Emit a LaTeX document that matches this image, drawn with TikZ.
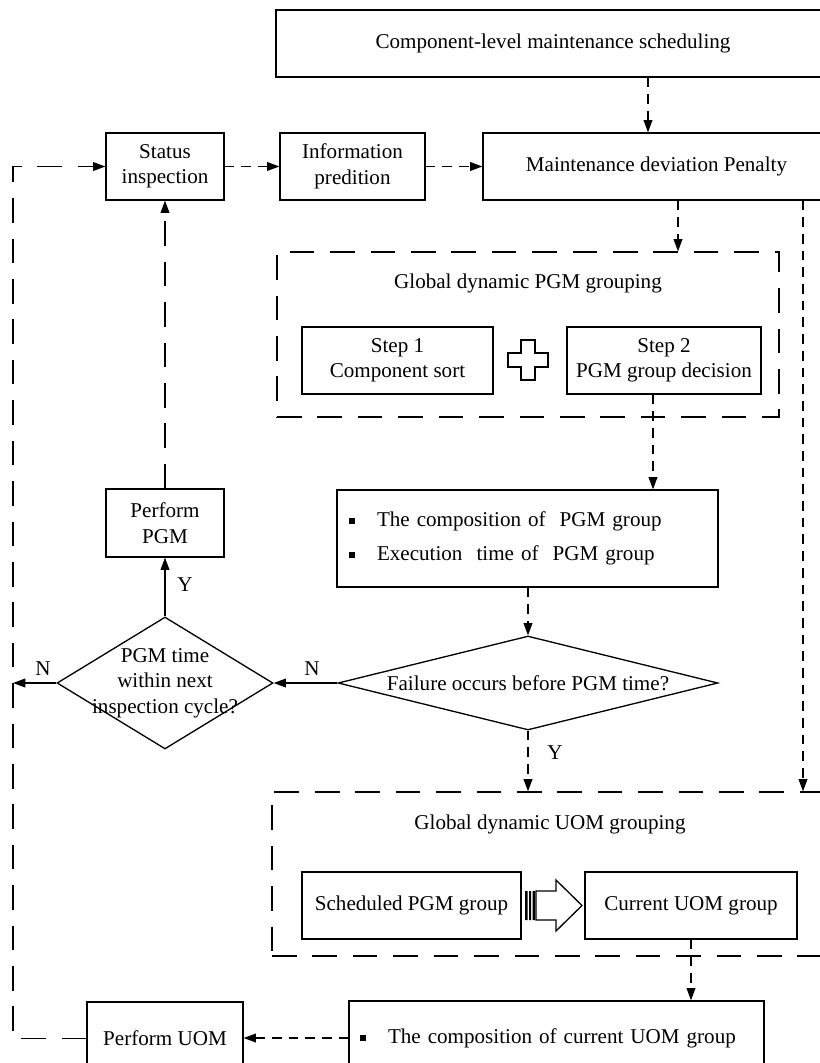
\documentclass[tikz,border=0pt]{standalone}
\usepackage{fontspec}
\setmainfont{Liberation Serif}
\usetikzlibrary{arrows.meta, calc, shapes.geometric}

\newcommand\sqbullet{\raisebox{0.25ex}{\rule{0.12cm}{0.12cm}}\hspace{0.44cm}}

\tikzset{
    box/.style={draw, rectangle, inner sep=0pt, align=center},
    grpbox/.style={draw, rectangle, inner sep=0pt, longdash},
    decide/.style={draw, diamond, inner sep=0pt},
    longdash/.style={dash pattern=on 14pt off 9pt},
    shortdash/.style={dash pattern=on 5.5pt off 4pt},
    flow/.style={->, shortdash},
    loopline/.style={->, longdash},
}

\begin{document}
\begin{tikzpicture}[x=0.02cm, y=-0.02cm, line width=0.75pt,
    font=\fontsize{12}{14.5}\selectfont, >={Triangle[length=7pt,width=5pt]}]
    \useasboundingbox (0,0) rectangle (820,1063);
    \clip (0,0) rectangle (820,1063);

    \node[box, minimum width=11.08cm, minimum height=1.34cm] (sched) at (553,43.5) {Component-level maintenance scheduling};
    \node[box, minimum width=2.36cm, minimum height=1.34cm] (status) at (165,166.5) {Status\\inspection};
    \node[box, minimum width=2.9cm, minimum height=1.34cm] (info) at (352.5,166.5) {Information\\predition};
    \node[box, minimum width=6.94cm, minimum height=1.34cm] (penalty) at (656.5,166.5) {Maintenance deviation Penalty};

    \node[grpbox, minimum width=10.04cm, minimum height=3.3cm] (pgmgrp) at (528,334.5) {};
    \node (pgmtitle) at (528,283) {Global dynamic PGM grouping};
    \node[box, minimum width=3.82cm, minimum height=1.34cm] (step1) at (397.5,360.5) {Step 1\\Component sort};
    \node[box, minimum width=3.88cm, minimum height=1.34cm] (step2) at (664,360.5) {Step 2\\PGM group decision};
    \draw[shift={(528,360)}] (-7,-20) -- (7,-20) -- (7,-7) -- (20,-7) -- (20,7) -- (7,7) -- (7,20)
        -- (-7,20) -- (-7,7) -- (-20,7) -- (-20,-7) -- (-7,-7) -- cycle;

    \node[box, minimum width=7.62cm, minimum height=1.94cm, text width=7.14cm, align=left] (comp) at (527.5,538.5)
        {\sqbullet The composition of\ \ PGM group\\[5pt]\sqbullet Execution\ \ time of\ \ PGM group};

    \node[decide, minimum width=7.6cm, minimum height=1.88cm] (failq) at (528,683) {};
    \node (failtext) at (failq) {Failure occurs before PGM time?};
    \node[decide, minimum width=4.32cm, minimum height=2.64cm] (pgmq) at (165,683) {};
    \node[align=center] (pgmtext) at (pgmq) {PGM time\\within next\\inspection cycle?};
    \node[box, minimum width=2.36cm, minimum height=1.36cm] (performpgm) at (165,523) {Perform\\PGM};

    \node[grpbox, minimum width=11.16cm, minimum height=3.28cm] (uomgrp) at (551,874) {};
    \node (uomtitle) at (550,824) {Global dynamic UOM grouping};
    \node[box, minimum width=4.38cm, minimum height=1.34cm] (schedpgm) at (411.5,905.5) {Scheduled PGM group};
    \node[box, minimum width=4.24cm, minimum height=1.34cm] (current) at (691,905.5) {Current UOM group};
    \fill[shift={(553,905.5)}] (-28,-14.5) rectangle (-25.5,14.5) (-24,-14.5) rectangle (-22,14.5)
        (-20.5,-14.5) rectangle (-18,14.5);
    \draw[shift={(553,905.5)}] (-17,-14.5) -- (3,-14.5) -- (3,-25.5) -- (29,0) -- (3,25.5) -- (3,14.5)
        -- (-17,14.5) -- cycle;

    \node[box, minimum width=8.3cm, minimum height=1.48cm, text width=7.86cm, align=left] (compuom) at (556.5,1038)
        {\sqbullet The composition of current UOM group};
    \node[box, minimum width=3.12cm, minimum height=1.46cm] (performuom) at (165,1038.5) {Perform UOM};

    \node (npgm) at (43,669) {N};
    \node (nfail) at (312,669) {N};
    \node (ypgm) at (185,585) {Y};
    \node (yfail) at (555,753) {Y};

    \coordinate (lft) at (13,0);
    \coordinate (xa) at (648,0);
    \coordinate (xb) at (678,0);
    \coordinate (xc) at (803,0);
    \coordinate (xd) at (653,0);

    \draw[flow] (sched.south -| xa) -- (penalty.north -| xa);
    \draw[flow] (status) -- (info);
    \draw[flow] (info) -- (penalty);
    \draw[flow] (penalty.south -| xb) -- (pgmgrp.north -| xb);
    \draw[flow] (penalty.south -| xc) -- (uomgrp.north -| xc);
    \draw[flow] (step2.south -| xd) -- (comp.north -| xd);
    \draw[flow] (comp.south -| failq.north) -- (failq.north);
    \draw[->] (failq.west) -- (pgmq.east);
    \draw[->] (pgmq.west) -- (pgmq.west -| lft);
    \draw[->] (pgmq) -- (performpgm);
    \draw[loopline] (performpgm) -- (status);
    \draw[flow] (failq.south) -- (failq.south |- uomgrp.north);
    \draw[flow] (current.south) -- (current.south |- compuom.north);
    \draw[flow] (compuom.west) -- (compuom.west -| performuom.east);
    \draw[loopline] (performuom.west) -- (lft |- performuom.west) -- (lft |- status.west) -- (status.west);
\end{tikzpicture}
\end{document}
